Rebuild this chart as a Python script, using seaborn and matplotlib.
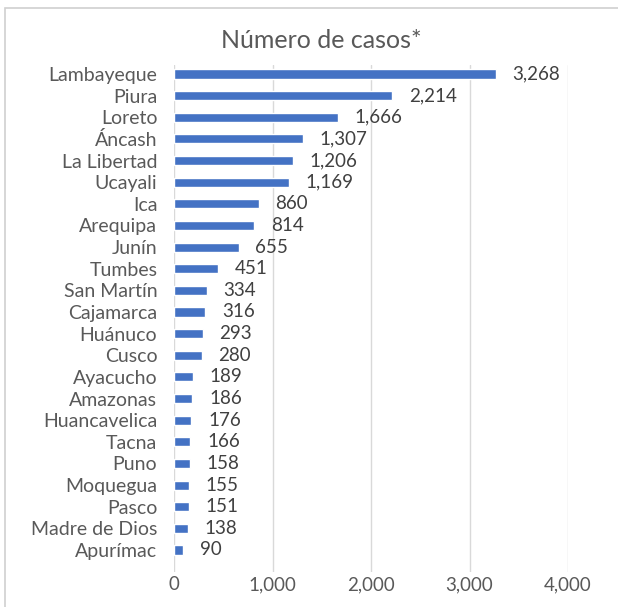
import matplotlib
matplotlib.use("Agg")
import matplotlib.pyplot as plt
import seaborn as sns
import pandas as pd
from matplotlib.patches import Rectangle

regions = ["Lambayeque", "Piura", "Loreto", "Áncash", "La Libertad", "Ucayali", "Ica",
           "Arequipa", "Junín", "Tumbes", "San Martín", "Cajamarca", "Huánuco", "Cusco",
           "Ayacucho", "Amazonas", "Huancavelica", "Tacna", "Puno", "Moquegua", "Pasco",
           "Madre de Dios", "Apurímac"]
cases = [3268, 2214, 1666, 1307, 1206, 1169, 860, 814, 655, 451, 334, 316, 293, 280,
         189, 186, 176, 166, 158, 155, 151, 138, 90]
x_ticks = [0, 1000, 2000, 3000, 4000]
title = "Número de casos*"

df = pd.DataFrame({"region": regions, "cases": cases})

sns.set_style("white")
plt.rcParams['font.family'] = ['Lato', 'DejaVu Sans']
txt = "#595959"
fs = 13.5

fig = plt.figure(figsize=(6.18, 6.07), dpi=100)
fig.patches.append(Rectangle((5/618, -0.1), 1.2, 1 - 8/607 + 0.1, transform=fig.transFigure,
                             fill=False, edgecolor="#d0d0d0", linewidth=1.2))
ax = fig.add_axes([174/618, 1 - 572/607, (568-174)/618, (572-65)/607])

sns.barplot(data=df, y="region", x="cases", orient="h", color="#4472C4",
            width=0.42, saturation=1, ax=ax, zorder=3)

ax.set_xlim(0, 4000)
ax.set_ylim(22 + 22/21.6, -9/21.6)
ax.set_xticks(x_ticks)
ax.set_xticklabels([f"{t:,}" for t in x_ticks], fontsize=fs, color=txt)
ax.tick_params(axis="x", length=0, pad=3)
ax.tick_params(axis="y", length=0, pad=12, labelsize=14, labelcolor=txt)
ax.xaxis.grid(True, color="#d9d9d9", linewidth=1, zorder=0)
ax.set_axisbelow(True)
for s in ax.spines.values():
    s.set_visible(False)
ax.set_xlabel("")
ax.set_ylabel("")

for i, v in enumerate(cases):
    ax.annotate(f"{v:,}", (v, i), xytext=(12, 0), textcoords="offset points",
                va="center", ha="left", fontsize=fs, color="#404040")

fig.text(321/618, 1 - 40/607, title, ha="center", va="center", fontsize=18, color=txt)

fig.savefig("out.png", dpi=100)
